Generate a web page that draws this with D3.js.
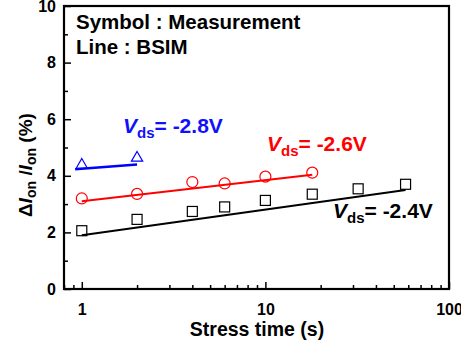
<!DOCTYPE html>
<html>
<head>
<meta charset="utf-8">
<script src="https://cdn.jsdelivr.net/npm/d3@7"></script>
<style>
  body { margin: 0; background: #fff; }
  svg { font-family: "Liberation Sans", Arial, sans-serif; font-weight: bold; }
</style>
</head>
<body>
<div id="main"></div>
<script>
const ctx = {
    w: 461,
    h: 351,
    left: 64,
    right: 449,
    top: 6,
    bottom: 289,
};

// measured points
const t24 = [1, 2, 4, 6, 10, 18, 32, 58];
const meas24 = [2.06, 2.46, 2.74, 2.9, 3.13, 3.35, 3.54, 3.7];
const t26 = [1, 2, 4, 6, 10, 18];
const meas26 = [3.2, 3.36, 3.78, 3.73, 3.97, 4.11];
const t28 = [1, 2];
const meas28 = [4.38, 4.63];

// BSIM lines
const bsimT24 = [1, 58];
const bsim24 = [1.9, 3.5];
const bsimT26 = [1, 18];
const bsim26 = [3.1, 4.04];
const bsimT28 = [0.92, 2];
const bsim28 = [4.23, 4.4];

const xMajor = [1, 10, 100];
const xMinor = [0.8, 0.9, 2, 3, 4, 5, 6, 7, 8, 9, 20, 30, 40, 50, 60, 70, 80, 90];
const yMajor = [0, 2, 4, 6, 8, 10];
const yMinor = [1, 3, 5, 7, 9];

const svg = d3.select("#main").append("svg")
    .attr("width", ctx.w)
    .attr("height", ctx.h);

const x = d3.scaleLog().domain([0.8, 100]).range([ctx.left, ctx.right]);
const y = d3.scaleLinear().domain([0, 10]).range([ctx.bottom, ctx.top]);

function styleAxis(g) {
    g.select(".domain").remove();
    g.selectAll("line").attr("stroke", "#000").attr("stroke-width", 1.5);
    g.selectAll("text").attr("fill", "#000").style("font-size", "16px").style("font-weight", "bold")
     .style("font-family", '"Liberation Sans", Arial, sans-serif');
}

svg.append("g").attr("transform", `translate(0,${ctx.bottom})`)
    .call(d3.axisBottom(x).tickValues(xMajor).tickFormat(d3.format("d")).tickSize(-7).tickPadding(15))
    .call(styleAxis);
svg.append("g").attr("transform", `translate(0,${ctx.bottom})`)
    .call(d3.axisBottom(x).tickValues(xMinor).tickFormat("").tickSize(-4))
    .call(styleAxis);
svg.append("g").attr("transform", `translate(${ctx.left},0)`)
    .call(d3.axisLeft(y).tickValues(yMajor).tickSize(-7).tickPadding(8))
    .call(styleAxis);
svg.append("g").attr("transform", `translate(${ctx.left},0)`)
    .call(d3.axisLeft(y).tickValues(yMinor).tickFormat("").tickSize(-4))
    .call(styleAxis);

svg.append("rect")
    .attr("x", ctx.left).attr("y", ctx.top)
    .attr("width", ctx.right - ctx.left).attr("height", ctx.bottom - ctx.top)
    .attr("fill", "none").attr("stroke", "#000").attr("stroke-width", 2.2);

const line = d3.line().x(d => x(d[0])).y(d => y(d[1]));
const zip = (a, b) => a.map((v, i) => [v, b[i]]);

function drawLine(ts, vs, color, w) {
    svg.append("path").datum(zip(ts, vs))
        .attr("d", line).attr("fill", "none")
        .attr("stroke", color).attr("stroke-width", w);
}
drawLine(bsimT24, bsim24, "#000", 2);
drawLine(bsimT26, bsim26, "#ff0000", 2);
drawLine(bsimT28, bsim28, "#0000ff", 2.4);

// squares
svg.selectAll(".sq").data(zip(t24, meas24)).enter().append("rect")
    .attr("x", d => x(d[0]) - 5).attr("y", d => y(d[1]) - 5)
    .attr("width", 10).attr("height", 10)
    .attr("fill", "none").attr("stroke", "#000").attr("stroke-width", 1.2);

// circles
svg.selectAll(".ci").data(zip(t26, meas26)).enter().append("circle")
    .attr("cx", d => x(d[0])).attr("cy", d => y(d[1])).attr("r", 5.5)
    .attr("fill", "none").attr("stroke", "#ff0000").attr("stroke-width", 1.2);

// triangles
const tri = d3.symbol().type(d3.symbolTriangle).size(55);
svg.selectAll(".tr").data(zip(t28, meas28)).enter().append("path")
    .attr("d", tri)
    .attr("transform", d => `translate(${x(d[0])},${y(d[1])})`)
    .attr("fill", "none").attr("stroke", "#0000ff").attr("stroke-width", 1.2);

// legend text
svg.append("text").attr("x", 76).attr("y", 29).style("font-size", "20.5px").text("Symbol : Measurement");
svg.append("text").attr("x", 76).attr("y", 54).style("font-size", "20.5px").text("Line : BSIM");

function vdsLabel(px, py, value, color) {
    const t = svg.append("text").attr("x", px).attr("y", py).attr("fill", color).style("font-size", "21px");
    t.append("tspan").style("font-style", "italic").text("V");
    t.append("tspan").attr("dy", 5).style("font-size", "15px").text("ds");
    t.append("tspan").attr("dy", -5).text("= " + value);
}
vdsLabel(123, 133, "-2.8V", "#1010ff");
vdsLabel(267, 151, "-2.6V", "#ff0000");
vdsLabel(333, 218, "-2.4V", "#000");

// axis titles
svg.append("text").attr("x", 257).attr("y", 336)
    .attr("text-anchor", "middle").style("font-size", "19.5px").text("Stress time (s)");

const yt = svg.append("text").attr("transform", "translate(32,165) rotate(-90)")
    .attr("text-anchor", "middle").style("font-size", "19px");
yt.append("tspan").text("Δ");
yt.append("tspan").style("font-style", "italic").text("I");
yt.append("tspan").attr("dy", 4).style("font-size", "14px").text("on");
yt.append("tspan").attr("dy", -4).text(" /");
yt.append("tspan").style("font-style", "italic").text("I");
yt.append("tspan").attr("dy", 4).style("font-size", "14px").text("on");
yt.append("tspan").attr("dy", -4).text(" (%)");
</script>
</body>
</html>
